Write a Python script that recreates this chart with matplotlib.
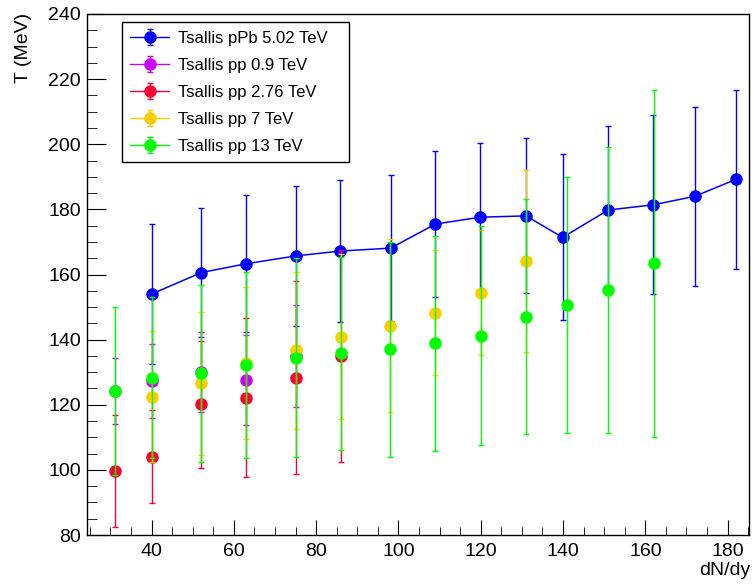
import numpy as np
import matplotlib.pyplot as plt
from matplotlib.ticker import MultipleLocator

plt.rcParams['font.family'] = ['Liberation Sans', 'DejaVu Sans']

# Tsallis temperature vs dN/dy
pPb_x = [40.0, 52.1, 63.0, 75.0, 85.9, 98.1, 109.0, 119.9, 131.0, 139.9, 151.0, 161.9, 172.0, 182.0]
pPb_T = [154.0, 160.6, 163.3, 165.7, 167.2, 168.1, 175.5, 177.6, 178.0, 171.4, 179.8, 181.4, 184.0, 189.2]
pPb_err = [21.4, 19.8, 21.0, 21.4, 21.9, 22.5, 22.5, 22.9, 23.8, 25.5, 25.9, 27.5, 27.5, 27.4]

pp09_x = [31, 40, 52, 63, 75]
pp09_T = [124.2, 127.3, 130.0, 127.6, 135.0]
pp09_err = [10.2, 11.3, 12.3, 13.7, 15.6]

pp276_x = [31, 40, 52, 63, 75, 86]
pp276_T = [99.7, 104.0, 120.1, 122.2, 128.3, 134.9]
pp276_err = [17.1, 14.3, 19.6, 24.4, 29.7, 32.5]

pp7_x = [40, 52, 63, 75, 86, 98, 109, 120, 131]
pp7_T = [122.5, 126.6, 132.9, 136.7, 140.9, 144.3, 148.3, 154.4, 164.2]
pp7_err = [20.1, 21.9, 23.4, 24.2, 25.4, 26.6, 19.2, 19.2, 28.0]

pp13_x = [31, 40, 52, 63, 75, 86, 98, 109, 120, 131, 141, 151, 162]
pp13_T = [124.2, 128.3, 129.6, 132.2, 134.5, 135.8, 137.0, 138.9, 141.2, 147.0, 150.5, 155.2, 163.4]
pp13_err = [25.9, 24.8, 27.1, 28.5, 30.6, 29.7, 33.0, 33.0, 33.7, 36.1, 39.3, 43.9, 53.4]

series = [
    ('Tsallis pPb 5.02 TeV', pPb_x, pPb_T, pPb_err, '#0000ff', True),
    ('Tsallis pp 0.9 TeV', pp09_x, pp09_T, pp09_err, '#cc00ff', False),
    ('Tsallis pp 2.76 TeV', pp276_x, pp276_T, pp276_err, '#ff0033', False),
    ('Tsallis pp 7 TeV', pp7_x, pp7_T, pp7_err, '#ffcc00', False),
    ('Tsallis pp 13 TeV', pp13_x, pp13_T, pp13_err, '#00ff00', False),
]

fig = plt.figure(figsize=(7.54, 5.87), dpi=100)
ax = fig.add_axes([87 / 754, 1 - 535 / 587, 662 / 754, 521 / 587])

handles = []
for i, (label, x, y, err, color, joined) in enumerate(series):
    ax.errorbar(x, y, yerr=err, fmt='o', ls='-' if joined else 'none',
                color=color, ms=8, lw=1.1, elinewidth=1, capsize=2, capthick=1,
                zorder=2 + i)
    # proxy for the legend (ROOT style: marker + line + error bar)
    h = ax.errorbar([np.nan], [np.nan], yerr=[np.nan], fmt='o-', color=color,
                    ms=8, lw=1, elinewidth=1, capsize=2.5, capthick=1)
    handles.append((h, label))

ax.set_xlim(24.3, 185.2)
ax.set_ylim(80, 240)
ax.xaxis.set_major_locator(MultipleLocator(20))
ax.xaxis.set_minor_locator(MultipleLocator(5))
ax.yaxis.set_major_locator(MultipleLocator(20))
ax.yaxis.set_minor_locator(MultipleLocator(5))
ax.tick_params(which='both', direction='in', top=False, right=False, labelsize=14)
ax.tick_params(axis='y', which='major', length=14, pad=4.5)
ax.tick_params(axis='y', which='minor', length=7)
ax.tick_params(axis='x', which='major', length=11, pad=6)
ax.tick_params(axis='x', which='minor', length=6)
for s in ax.spines.values():
    s.set_linewidth(1.0)

fig.text(32 / 754, 1 - 13 / 587, 'T (MeV)', rotation=90, rotation_mode='anchor',
         ha='right', va='bottom', fontsize=14)
fig.text(750 / 754, 1 - 562 / 587, 'dN/dy', ha='right', va='top', fontsize=14)

leg = ax.legend([h for h, _ in handles], [l for _, l in handles],
                loc='upper left', bbox_to_anchor=(0.0529, 0.715, 0.3429, 0.269),
                mode='expand', fontsize=12, frameon=True, fancybox=False,
                edgecolor='black', framealpha=1, handlelength=2.3,
                handletextpad=0.55, labelspacing=0.72, borderpad=0.5,
                borderaxespad=0)
leg.get_frame().set_linewidth(1.0)

fig.savefig('out.png', dpi=100)
